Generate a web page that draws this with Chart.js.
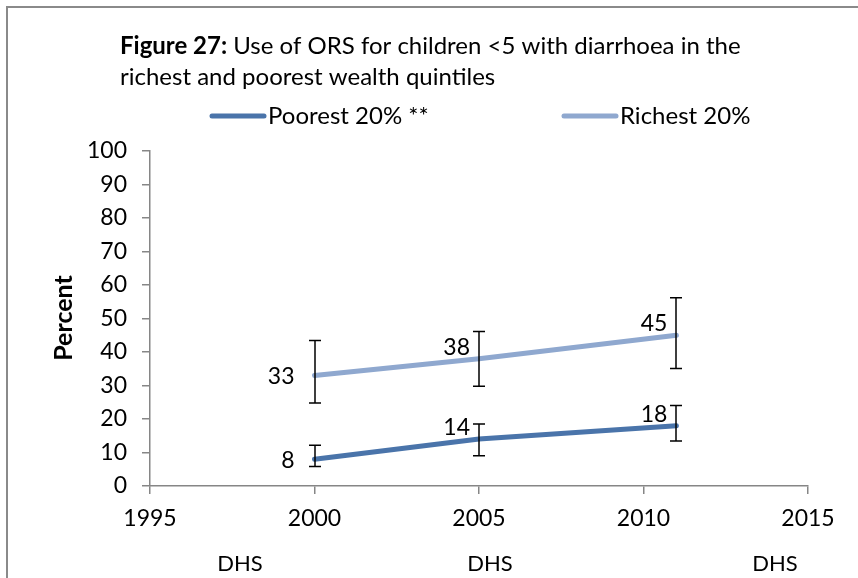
<!DOCTYPE html>
<html>
<head>
<meta charset="utf-8">
<script src="https://cdn.jsdelivr.net/npm/chart.js@4"></script>
<style>
  html, body { margin: 0; padding: 0; background: #fff; }
  #wrap { width: 858px; height: 578px; }
</style>
</head>
<body>
<div id="wrap"><canvas id="ors"></canvas></div>
<script>
const years = [2000, 2005, 2011];
const poorest = [8, 14, 18];
const poorestLow = [5.8, 9.0, 13.4];
const poorestHigh = [12.2, 18.5, 24.0];
const richest = [33, 38, 45];
const richestLow = [24.8, 29.8, 35.1];
const richestHigh = [43.4, 46.1, 56.2];
const surveyLabels = ['DHS', 'DHS', 'DHS'];
const surveyX = [240, 490, 775];

const FONT = 'Lato, "Open Sans", sans-serif';

const toPoints = (vals) => vals.map((v, i) => ({ x: years[i], y: v }));

// frame, title, legend, error bars, value labels and survey row
const extras = {
  id: 'extras',
  beforeDraw(chart) {
    const ctx = chart.ctx;
    ctx.save();
    ctx.strokeStyle = '#8a8a8a';
    ctx.lineWidth = 2;
    ctx.beginPath();
    ctx.moveTo(7, 600);
    ctx.lineTo(7, 7);
    ctx.lineTo(900, 7);
    ctx.stroke();

    ctx.fillStyle = '#000';
    ctx.textBaseline = 'alphabetic';
    ctx.textAlign = 'left';
    ctx.font = 'bold 24px ' + FONT;
    const lead = 'Figure 27:';
    ctx.fillText(lead, 120, 54);
    const w = ctx.measureText(lead).width;
    ctx.font = '24px ' + FONT;
    ctx.fillText(' Use of ORS for children <5 with diarrhoea in the', 120 + w, 54);
    ctx.fillText('richest and poorest wealth quintiles', 120, 85);

    // legend
    const items = [
      { x: 210, text: 'Poorest 20% **', color: chart.data.datasets[0].borderColor },
      { x: 562, text: 'Richest 20%', color: chart.data.datasets[1].borderColor }
    ];
    items.forEach(it => {
      ctx.strokeStyle = it.color;
      ctx.lineWidth = 5;
      ctx.lineCap = 'round';
      ctx.beginPath();
      ctx.moveTo(it.x + 2, 116);
      ctx.lineTo(it.x + 54, 116);
      ctx.stroke();
      ctx.fillText(it.text, it.x + 58, 124);
    });

    // y axis title
    ctx.save();
    ctx.translate(72, 318);
    ctx.rotate(-Math.PI / 2);
    ctx.textAlign = 'center';
    ctx.font = 'bold 25px ' + FONT;
    ctx.fillText('Percent', 0, 0);
    ctx.restore();

    // survey row under the year ticks
    ctx.font = '22px ' + FONT;
    ctx.textAlign = 'center';
    surveyLabels.forEach((t, i) => ctx.fillText(t, surveyX[i], 571));
    ctx.restore();
  },
  afterDatasetsDraw(chart) {
    const ctx = chart.ctx;
    const xs = chart.scales.x, ys = chart.scales.y;
    ctx.save();
    ctx.strokeStyle = '#000';
    ctx.lineWidth = 1.5;
    const bars = [[poorestLow, poorestHigh], [richestLow, richestHigh]];
    bars.forEach(([lo, hi]) => {
      years.forEach((yr, i) => {
        const px = Math.round(xs.getPixelForValue(yr));
        const y1 = ys.getPixelForValue(lo[i]);
        const y2 = ys.getPixelForValue(hi[i]);
        ctx.beginPath();
        ctx.moveTo(px, y1); ctx.lineTo(px, y2);
        ctx.moveTo(px - 6, y1); ctx.lineTo(px + 6, y1);
        ctx.moveTo(px - 6, y2); ctx.lineTo(px + 6, y2);
        ctx.stroke();
      });
    });

    ctx.fillStyle = '#000';
    ctx.font = '23px ' + FONT;
    ctx.textAlign = 'right';
    [poorest, richest].forEach(vals => {
      vals.forEach((v, i) => {
        const px = xs.getPixelForValue(years[i]);
        const py = ys.getPixelForValue(v);
        if (i === 0) {
          ctx.textBaseline = 'middle';
          ctx.fillText(String(v), px - 20, py + 1);
        } else {
          ctx.textBaseline = 'alphabetic';
          ctx.fillText(String(v), px - 9, py - 4);
        }
      });
    });
    ctx.restore();
  }
};

new Chart(document.getElementById('ors'), {
  type: 'line',
  data: {
    datasets: [
      {
        label: 'Poorest 20% **',
        data: toPoints(poorest),
        borderColor: '#4A74AA',
        borderWidth: 5,
        borderCapStyle: 'round',
        pointRadius: 0,
        tension: 0
      },
      {
        label: 'Richest 20%',
        data: toPoints(richest),
        borderColor: '#8FA8CF',
        borderWidth: 5,
        borderCapStyle: 'round',
        pointRadius: 0,
        tension: 0
      }
    ]
  },
  options: {
    responsive: true,
    maintainAspectRatio: false,
    animation: false,
    layout: { padding: { left: 0, top: 151, right: 50, bottom: 0 } },
    plugins: {
      legend: { display: false },
      tooltip: { enabled: false }
    },
    scales: {
      x: {
        type: 'linear',
        min: 1995,
        max: 2015,
        afterFit(scale) { scale.height = 92; },
        ticks: {
          stepSize: 5,
          padding: 11,
          color: '#000',
          font: { family: FONT, size: 23 },
          callback: v => String(v)
        },
        grid: { drawOnChartArea: false, tickLength: 8, color: '#868686', lineWidth: 1.5 },
        border: { color: '#868686', width: 1.5 }
      },
      y: {
        min: 0,
        max: 100,
        afterFit(scale) { scale.width = 150; },
        ticks: {
          stepSize: 10,
          padding: 15,
          color: '#000',
          font: { family: FONT, size: 23 }
        },
        grid: { drawOnChartArea: false, tickLength: 8, color: '#868686', lineWidth: 1.5 },
        border: { color: '#868686', width: 1.5 }
      }
    }
  },
  plugins: [extras]
});
</script>
</body>
</html>
